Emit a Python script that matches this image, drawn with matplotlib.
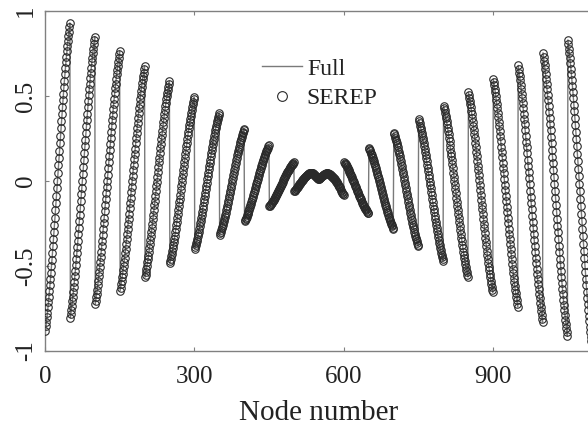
import numpy as np
import matplotlib
matplotlib.use("Agg")
import matplotlib.pyplot as plt

# ---- data ----
nodes_per_row = 50
# normalised rise profile of one row (start -> end), read from first row
row_profile = [0.0000, 0.0136, 0.0280, 0.0430, 0.0588, 0.0753, 0.0924, 0.1102, 0.1286, 0.1477,
               0.1674, 0.1877, 0.2085, 0.2298, 0.2516, 0.2739, 0.2965, 0.3196, 0.3429, 0.3666,
               0.3905, 0.4147, 0.4390, 0.4633, 0.4878, 0.5122, 0.5367, 0.5610, 0.5853, 0.6095,
               0.6334, 0.6571, 0.6804, 0.7035, 0.7261, 0.7484, 0.7702, 0.7915, 0.8123, 0.8326,
               0.8523, 0.8714, 0.8898, 0.9076, 0.9247, 0.9412, 0.9570, 0.9720, 0.9864, 1.0000]

# rows 0-9: rising (start value, end value)
left_start = [-0.88, -0.805, -0.726, -0.645, -0.566, -0.485, -0.40, -0.315, -0.236, -0.148]
left_end = [0.93, 0.85, 0.765, 0.675, 0.587, 0.493, 0.40, 0.307, 0.209, 0.11]

# rows 10 and 11: central rows (M shape)
row10 = [-0.060, -0.057, -0.053, -0.049, -0.045, -0.041, -0.037, -0.033, -0.029, -0.024,
         -0.020, -0.016, -0.012, -0.008, -0.004, 0.000, 0.004, 0.008, 0.012, 0.016,
         0.020, 0.023, 0.026, 0.029, 0.032, 0.035, 0.037, 0.039, 0.041, 0.043,
         0.045, 0.046, 0.047, 0.048, 0.048, 0.048, 0.047, 0.045, 0.043, 0.040,
         0.037, 0.034, 0.031, 0.028, 0.025, 0.022, 0.019, 0.016, 0.013, 0.011]
row11 = [0.012, 0.015, 0.018, 0.021, 0.024, 0.027, 0.030, 0.033, 0.036, 0.038,
         0.040, 0.042, 0.043, 0.044, 0.045, 0.045, 0.045, 0.045, 0.044, 0.043,
         0.041, 0.039, 0.037, 0.035, 0.032, 0.029, 0.026, 0.023, 0.020, 0.017,
         0.013, 0.009, 0.005, 0.001, -0.003, -0.008, -0.013, -0.018, -0.023, -0.028,
         -0.033, -0.038, -0.044, -0.050, -0.056, -0.062, -0.068, -0.074, -0.079, -0.085]

# rows 12-21: falling (start value, end value)
right_start = [0.11, 0.195, 0.283, 0.362, 0.444, 0.522, 0.60, 0.68, 0.754, 0.83]
right_end = [-0.19, -0.28, -0.383, -0.47, -0.565, -0.655, -0.74, -0.83, -0.913, -0.995]

x_ticks = [0, 300, 600, 900]
y_ticks = [-1, -0.5, 0, 0.5, 1]
y_tick_labels = ["-1", "-0.5", "0", "0.5", "1"]
legend_labels = ["Full", "SEREP"]
x_label = "Node number"

# ---- assemble the mode shape ----
prof = np.array(row_profile)
rows = []
for s, e in zip(left_start, left_end):
    rows.append(s + (e - s) * prof)
rows.append(np.array(row10))
rows.append(np.array(row11))
for s, e in zip(right_start, right_end):
    rows.append(e + (s - e) * prof[::-1])
y = np.concatenate(rows)
x = np.arange(1, len(y) + 1)

# ---- figure ----
plt.rcParams['font.family'] = ['Liberation Serif', 'DejaVu Serif']
W, H, DPI = 588, 430, 100
fig = plt.figure(figsize=(W / DPI, H / DPI), dpi=DPI)
ax = fig.add_axes([45 / W, (H - 351) / H, 547.3 / W, 340 / H])

ax.plot(x, y, color='#7a7a7a', lw=1.0, zorder=2, label=legend_labels[0])
ax.plot(x, y, ls='none', marker='o', ms=5.4, mfc='none', mec='#2a2a2a', mew=0.8,
        zorder=3, label=legend_labels[1])

ax.set_xlim(0, 1100)
ax.set_ylim(-1, 1)
ax.set_xticks(x_ticks)
ax.set_yticks(y_ticks)
ax.set_yticklabels(y_tick_labels)
ax.tick_params(direction='in', length=3, width=0.8, color='#808080',
               top=True, right=False, labelcolor='#222222')
ax.tick_params(axis='x', labelsize=18, pad=10.5)
ax.tick_params(axis='y', labelsize=18, pad=6)
for lab in ax.get_yticklabels():
    lab.set_rotation(90)
    lab.set_va('center')
for side in ['left', 'bottom', 'top']:
    ax.spines[side].set_color('#808080')
    ax.spines[side].set_linewidth(1.0)
ax.spines['right'].set_visible(False)
ax.set_xlabel(x_label, fontsize=21, color='#222222', labelpad=9)

leg = ax.legend(loc='upper left', bbox_to_anchor=(262 / W, 1 - 58 / H),
                bbox_transform=fig.transFigure, frameon=False, fontsize=17,
                handlelength=1.7, handletextpad=0.2, labelspacing=0.35,
                borderpad=0, borderaxespad=0, markerscale=1.3)
for t in leg.get_texts():
    t.set_color('#222222')

fig.savefig('out.png', dpi=DPI)
